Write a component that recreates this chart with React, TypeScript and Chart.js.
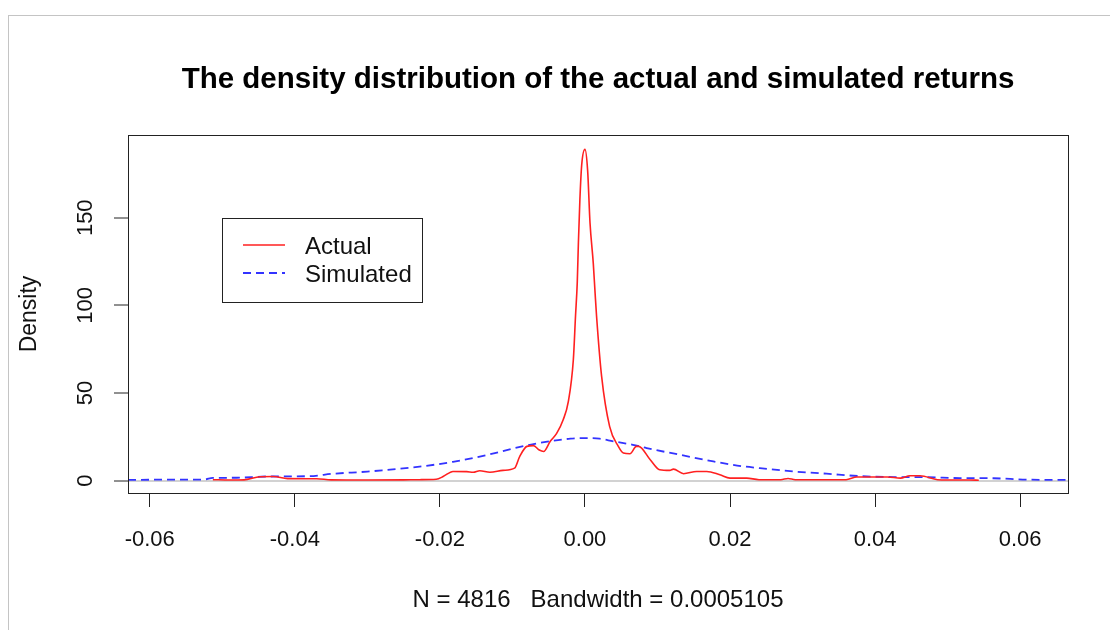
import React, { useEffect, useRef } from "react";
import { Chart, registerables } from "chart.js";

Chart.register(...registerables);

const TITLE = "The density distribution of the actual and simulated returns";
const X_LABEL = "N = 4816   Bandwidth = 0.0005105";
const Y_LABEL = "Density";
const SERIES_NAMES = ["Actual", "Simulated"];
const X_TICKS = [-0.06, -0.04, -0.02, 0, 0.02, 0.04, 0.06];
const Y_TICKS = [0, 50, 100, 150];

const actualX = [
  -0.0513, -0.049, -0.047, -0.0448, -0.043, -0.041, -0.037, -0.035, -0.03, -0.025,
  -0.0228, -0.0205, -0.0195, -0.0182, -0.0163, -0.0154, -0.0145, -0.0131, -0.0113, -0.0097,
  -0.009, -0.008, -0.0071, -0.0063, -0.0057, -0.0048, -0.0039, -0.003, -0.0023, -0.0016,
  -0.0013, -0.00106, -0.0009, -0.0007, -0.00045, 0.0, 0.00037, 0.0007, 0.00115,
  0.0014, 0.0016, 0.0023, 0.0034, 0.0046, 0.0053, 0.0062, 0.0071, 0.0074, 0.009,
  0.0103, 0.0117, 0.0122, 0.0136, 0.0154, 0.0168, 0.0186, 0.02, 0.0223, 0.024,
  0.027, 0.028, 0.029, 0.036, 0.0375, 0.0417, 0.0435, 0.0448, 0.0462, 0.0486,
  0.05, 0.053, 0.0543,
];
const actualY = [
  0.6, 0.4, 0.5, 2.3, 2.4, 1.2, 1.1, 0.5, 0.4, 0.5,
  0.6, 0.8, 2.5, 5.3, 5.2, 4.8, 5.7, 4.8, 5.9, 7.2,
  13.8, 19.6, 20, 17.5, 16.7, 22.4, 27, 34.8, 45, 69,
  94, 113, 136, 160, 180, 189, 177, 147, 124,
  107, 94, 59.5, 31, 19.6, 15.8, 15.4, 19.6, 19.6, 12,
  6.3, 5.9, 6.6, 4, 5.3, 5.3, 3.4, 1.5, 1.5, 0.6,
  0.6, 1.3, 0.6, 0.6, 2.1, 2.1, 1.5, 2.8, 2.8, 0.6,
  0.4, 0.4, 0.3,
];

const simX = [
  -0.063, -0.058, -0.0525, -0.0513, -0.048, -0.044, -0.038, -0.0347, -0.03, -0.0273,
  -0.0228, -0.0182, -0.0136, -0.0099, -0.0076, -0.0044, -0.002, 0, 0.002, 0.0039,
  0.0066, 0.0085, 0.0131, 0.0177, 0.0218, 0.0241, 0.0287, 0.0333, 0.038, 0.0425,
  0.047, 0.0517, 0.0563, 0.061, 0.0668,
];
const simY = [
  0.5, 0.6, 0.7, 1.6, 1.7, 2.4, 2.6, 4.0, 5.2, 6.2,
  8.0, 10.8, 14.6, 18.4, 20.5, 22.8, 24.0, 24.3, 24.0, 22.5,
  20.5, 18.6, 14.8, 11, 8.2, 7.2, 5.3, 4.0, 2.6, 2.1,
  2.0, 1.5, 1.4, 0.6, 0.5,
];

const X_RANGE = [-0.063, 0.0666];
const Y_RANGE = [-7.0, 197.2];
const LEGEND_AT = [-0.05, 150];

const FONT = "'Liberation Sans', Arial, Helvetica, sans-serif";
const RED = "#ff2020";
const BLUE = "#3333ff";
const BLUE_DASH = [8, 5];

const frameAndLegend = {
  id: "frameAndLegend",
  afterDraw(chart: any) {
    const { ctx, chartArea, scales } = chart;
    ctx.save();
    ctx.strokeStyle = "#222";
    ctx.lineWidth = 1;
    ctx.setLineDash([]);
    ctx.strokeRect(
      Math.round(chartArea.left) + 0.5,
      Math.round(chartArea.top) + 0.5,
      Math.round(chartArea.right - chartArea.left),
      Math.round(chartArea.bottom - chartArea.top)
    );

    const lx = Math.round(scales.x.getPixelForValue(LEGEND_AT[0]));
    const ly = Math.round(scales.y.getPixelForValue(LEGEND_AT[1]));
    const w = 200;
    const h = 84;
    ctx.fillStyle = "#fff";
    ctx.fillRect(lx, ly, w, h);
    ctx.strokeStyle = "#222";
    ctx.strokeRect(lx + 0.5, ly + 0.5, w, h);

    const rows = chart.data.datasets;
    rows.forEach((ds: any, i: number) => {
      const yy = ly + 27 + i * 28;
      ctx.strokeStyle = ds.borderColor;
      ctx.lineWidth = ds.borderWidth;
      ctx.setLineDash(ds.borderDash || []);
      ctx.beginPath();
      ctx.moveTo(lx + 21, yy);
      ctx.lineTo(lx + 63, yy);
      ctx.stroke();
      ctx.setLineDash([]);
      ctx.fillStyle = "#111";
      ctx.font = `24px ${FONT}`;
      ctx.textAlign = "left";
      ctx.textBaseline = "middle";
      ctx.fillText(ds.label, lx + 83, yy + 2);
    });
    ctx.restore();
  },
};

export default function App() {
  const ref = useRef<HTMLCanvasElement | null>(null);

  useEffect(() => {
    if (!ref.current) return;
    const chart = new Chart(ref.current, {
      type: "line",
      data: {
        datasets: [
          {
            label: SERIES_NAMES[0],
            data: actualX.map((x, i) => ({ x, y: actualY[i] })),
            borderColor: RED,
            borderWidth: 1.6,
            pointRadius: 0,
            cubicInterpolationMode: "monotone",
            fill: false,
          },
          {
            label: SERIES_NAMES[1],
            data: simX.map((x, i) => ({ x, y: simY[i] })),
            borderColor: BLUE,
            borderWidth: 1.8,
            borderDash: BLUE_DASH,
            pointRadius: 0,
            cubicInterpolationMode: "monotone",
            fill: false,
          },
        ],
      },
      options: {
        responsive: false,
        animation: false,
        devicePixelRatio: 1,
        layout: { padding: { left: 0, right: 42, top: 0, bottom: 0 } },
        plugins: {
          legend: { display: false },
          tooltip: { enabled: false },
          title: {
            display: true,
            text: TITLE,
            fullSize: false,
            color: "#000",
            font: { family: FONT, size: 29.5, weight: "bold", lineHeight: 1.2 },
            padding: { top: 62.3, bottom: 37.3 },
          },
        },
        scales: {
          x: {
            type: "linear",
            min: X_RANGE[0],
            max: X_RANGE[1],
            afterBuildTicks: (s: any) => {
              s.ticks = X_TICKS.map((v) => ({ value: v }));
            },
            afterFit: (s: any) => {
              s.height = 137;
            },
            border: { display: false },
            grid: {
              drawOnChartArea: false,
              drawTicks: true,
              tickLength: 14,
              tickColor: "#222",
              tickWidth: 1,
            },
            ticks: {
              autoSkip: false,
              maxRotation: 0,
              minRotation: 0,
              padding: 20,
              color: "#111",
              font: { family: FONT, size: 22 },
              callback: (v: any) => Number(v).toFixed(2),
            },
            title: {
              display: true,
              text: X_LABEL,
              color: "#111",
              font: { family: FONT, size: 24, lineHeight: 1.2 },
              padding: { top: 0, bottom: 15.6 },
            },
          },
          y: {
            type: "linear",
            min: Y_RANGE[0],
            max: Y_RANGE[1],
            afterBuildTicks: (s: any) => {
              s.ticks = Y_TICKS.map((v) => ({ value: v }));
            },
            afterFit: (s: any) => {
              s.width = 128;
            },
            border: { display: false },
            grid: {
              drawOnChartArea: true,
              drawTicks: true,
              tickLength: 14,
              tickColor: "#222",
              tickWidth: 1,
              lineWidth: (c: any) => (c.tick && c.tick.value === 0 ? 2 : 0),
              color: (c: any) => (c.tick && c.tick.value === 0 ? "#d2d2d2" : "rgba(0,0,0,0)"),
            },
            ticks: {
              autoSkip: false,
              minRotation: 90,
              maxRotation: 90,
              crossAlign: "center",
              padding: 10,
              color: "#111",
              font: { family: FONT, size: 22 },
              callback: (v: any) => String(v),
            },
            title: {
              display: true,
              text: Y_LABEL,
              color: "#111",
              font: { family: FONT, size: 23, lineHeight: 1.2 },
              padding: { top: 16, bottom: 0 },
            },
          },
        },
      },
      plugins: [frameAndLegend],
    } as any);
    return () => chart.destroy();
  }, []);

  return (
    <div style={{ position: "fixed", left: 0, top: 0, width: 1110, height: 630, background: "#fff" }}>
      <div
        style={{
          position: "absolute",
          left: 8,
          top: 15,
          width: 1102,
          height: 615,
          borderTop: "1px solid #c4c4c4",
          borderLeft: "1px solid #c4c4c4",
          boxSizing: "border-box",
        }}
      />
      <canvas ref={ref} width={1110} height={630} style={{ position: "absolute", left: 0, top: 0 }} />
    </div>
  );
}
